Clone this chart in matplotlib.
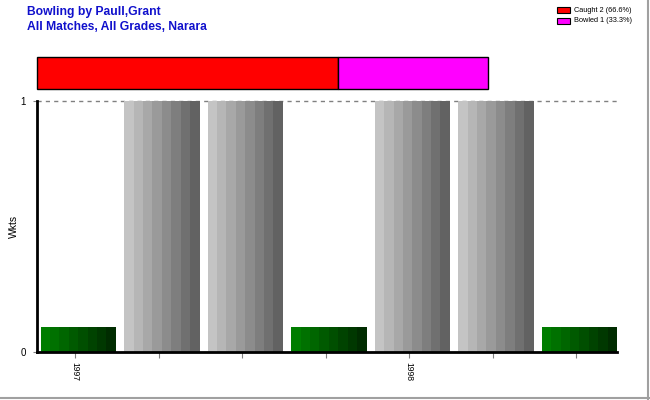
import numpy as np
import matplotlib
matplotlib.use("Agg")
import matplotlib.pyplot as plt
from matplotlib.lines import Line2D
from matplotlib.patches import Rectangle
from matplotlib.colors import to_rgb

plt.rcParams["font.family"] = ["Liberation Sans", "DejaVu Sans"]

# data
slot_ticks = ["1997", "", "", "", "1998", "", ""]
slot_values = [0.1, 1, 1, 0.1, 1, 1, 0.1]
slot_kind = ["wkt", "bg", "bg", "wkt", "bg", "bg", "wkt"]

dismissals = ["Caught", "Bowled"]
dismissal_counts = [2, 1]
dismissal_colors = ["#ff0000", "#ff00ff"]

TITLE_COL = "#1010cc"

fig = plt.figure(figsize=(6.5, 4.0), dpi=100)

# main axes
ax = fig.add_axes([37 / 650, 48 / 400, 580 / 650, 251 / 400])


def stripe_bar(ax, x, h, w, c0, c1, n=8):
    c0 = np.array(to_rgb(c0))
    c1 = np.array(to_rgb(c1))
    sw = w / n
    for k in range(n):
        t = k / (n - 1)
        col = c0 * (1 - t) + c1 * t
        ax.bar(x - w / 2 + sw * (k + 0.5), h, width=sw * 1.02, color=col,
               edgecolor="none", zorder=2)


for i, (v, kind) in enumerate(zip(slot_values, slot_kind)):
    if kind == "wkt":
        stripe_bar(ax, i + 0.04, v, 0.9, "#007d00", "#002c00")
    else:
        stripe_bar(ax, i + 0.04, v, 0.9, "#c4c4c4", "#626262")

ax.set_xlim(-0.455, 6.49)
ax.set_ylim(0, 1)

ax.axhline(1, color="#808080", lw=1, ls=(0, (3, 3)), zorder=1, clip_on=False)
ax.axhline(0, color="#808080", lw=1, ls=(0, (3, 3)), zorder=1)

for s in ["top", "right"]:
    ax.spines[s].set_visible(False)
ax.spines["left"].set_linewidth(2)
ax.spines["bottom"].set_linewidth(2)
ax.spines["bottom"].set_zorder(3)

ax.set_xticks(range(len(slot_ticks)))
ax.set_xticklabels(slot_ticks, rotation=270, fontsize=6.2)
ax.set_yticks([0, 1])
ax.set_yticklabels(["0", "1"], fontsize=7)
ax.tick_params(axis="x", length=4, color="#808080", pad=3)
ax.tick_params(axis="y", length=3, color="#808080", pad=5)
ax.set_ylabel("Wkts", fontsize=7.5, va="center")
ax.yaxis.set_label_coords(-23 / 580, 0.5)

# dismissal strip
ax2 = fig.add_axes([37 / 650, 311 / 400, 451 / 650, 32 / 400])
left = 0
for n, c in zip(dismissal_counts, dismissal_colors):
    ax2.barh(0, n, left=left, height=1, color=c, edgecolor="black", lw=1,
             clip_on=False)
    left += n
ax2.set_xlim(0, sum(dismissal_counts))
ax2.set_ylim(-0.5, 0.5)
ax2.axis("off")

# legend
total = sum(dismissal_counts)
for k, (name, n, c) in enumerate(zip(dismissals, dismissal_counts, dismissal_colors)):
    y = 1 - (10 + 11 * k) / 400
    fig.patches.append(Rectangle((557 / 650, y - 3 / 400), 13 / 650, 6 / 400,
                                 transform=fig.transFigure, facecolor=c,
                                 edgecolor="black", lw=0.8))
    pct = np.floor(n / total * 1000) / 10
    fig.text(574 / 650, y, f"{name} {n} ({pct:.1f}%)", fontsize=5.3,
             va="center", ha="left")

# titles
fig.text(27 / 650, 1 - 12 / 400, "Bowling by Paull,Grant", color=TITLE_COL,
         fontsize=8.7, fontweight="bold", va="center")
fig.text(27 / 650, 1 - 27 / 400, "All Matches, All Grades, Narara", color=TITLE_COL,
         fontsize=8.7, fontweight="bold", va="center")

# frame shadow
fig.lines.append(Line2D([648 / 650, 648 / 650], [0, 1], transform=fig.transFigure,
                        color="#a0a0a0", lw=1.5))
fig.lines.append(Line2D([0, 1], [2 / 400, 2 / 400], transform=fig.transFigure,
                        color="#a0a0a0", lw=1.5))

fig.savefig("out.png", dpi=100, facecolor="white")
